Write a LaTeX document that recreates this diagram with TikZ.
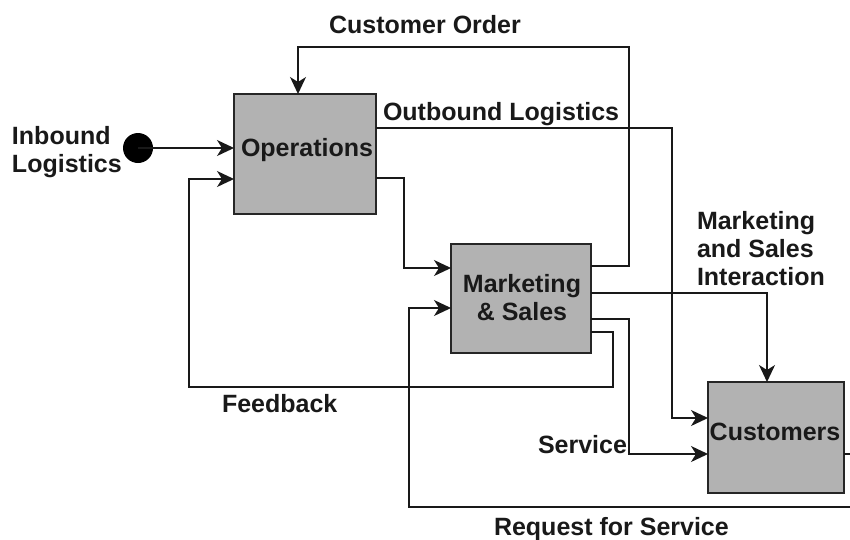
\documentclass[tikz,border=0pt]{standalone}
\usepackage{fontspec}
\setmainfont{Liberation Sans}
\usetikzlibrary{arrows.meta}
\begin{document}
\begin{tikzpicture}[x=1pt,y=-1pt,
  every node/.style={font=\fontsize{25}{28}\selectfont\bfseries, text=black!90, inner sep=0pt, outer sep=0pt},
  block/.style={draw=black!85, line width=1.6pt, fill=black!30, inner sep=0pt},
  conn/.style={draw=black!90, line width=1.4pt,
    -{Stealth[length=17pt,width=16pt,inset=5pt]}},
  lbl/.style={anchor=base west, align=left},
  clbl/.style={anchor=base, align=center}]
\useasboundingbox (0,0) rectangle (850,539);
\clip (0,0) rectangle (850,539);

% process blocks
\node[block, minimum width=142pt, minimum height=120pt] (ops)  at (305,154)   {};
\node[block, minimum width=140pt, minimum height=109pt] (mkt)  at (521,298.5) {};
\node[block, minimum width=136pt, minimum height=111pt] (cust) at (776,437.5) {};
\node[circle, fill=black, minimum size=30pt] (dot) at (138,148) {};

% block captions (base = baseline of the last line)
\node[clbl] (opsT)  at (307,156) {Operations};
\node[clbl] (mktT)  at (522,320) {Marketing\\\& Sales};
\node[clbl] (custT) at (775,440) {Customers};

% bend points
\coordinate (b1) at (672,418);
\coordinate (b2) at (404,268);
\coordinate (f1) at (613,387);
\coordinate (f2) at (189,179);
\coordinate (s1) at (629,454);
\coordinate (r1) at (862,507);
\coordinate (r2) at (409,308);

% inbound logistics
\draw[conn] (dot.center) -- (dot -| ops.west);
% customer order
\draw[conn] ([yshift=-22pt]mkt.north east) -| (629,47) -| ([xshift=64pt]ops.north west);
% outbound logistics
\draw[conn] ([yshift=-34pt]ops.north east) -| (b1) -- (b1 -| cust.west);
% operations to marketing
\draw[conn] ([yshift=-84pt]ops.north east) -| (b2) -- (b2 -| mkt.west);
% feedback
\draw[conn] ([yshift=-88pt]mkt.north east) -| (f1) -| (f2) -- (f2 -| ops.west);
% marketing and sales interaction
\draw[conn] ([yshift=-49pt]mkt.north east) -| ([xshift=59pt]cust.north west);
% service
\draw[conn] ([yshift=-75pt]mkt.north east) -| (s1) -- (s1 -| cust.west);
% request for service
\draw[conn] (s1 -| cust.east) -| (r1) -| (r2) -- (r2 -| mkt.west);

% connector labels
\node[clbl] (lOrder) at (425,33) {Customer Order};
\node[lbl] (lOut) at (383,120) {Outbound Logistics};
\node[lbl] (lIn) at (12,172) {Inbound\\Logistics};
\node[lbl] (lInt) at (697,285) {Marketing\\and Sales\\Interaction};
\node[lbl] (lFb) at (222,412) {Feedback};
\node[lbl] (lSv) at (538,453) {Service};
\node[lbl] (lReq) at (494,535) {Request for Service};
\end{tikzpicture}
\end{document}
